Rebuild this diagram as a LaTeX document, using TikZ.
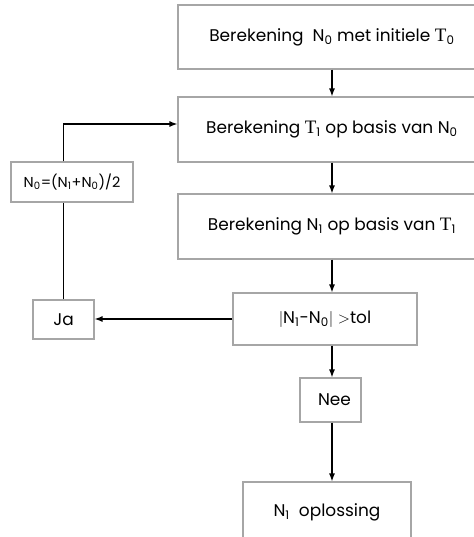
\documentclass[tikz,border=0pt]{standalone}
\usepackage{fontspec}
\setmainfont{Poppins}
\newfontfamily\tfont[Scale=1.12]{Liberation Serif}
\usetikzlibrary{arrows.meta}
\newcommand{\sub}[1]{\textsubscript{#1}}
\newcommand{\Tt}{{\tfont T}}
\tikzset{
	box/.style={draw=gray!70, line width=0.8pt, inner sep=0pt, align=center, font=\fontsize{12.7}{14}\selectfont},
	arr/.style={-{Latex[length=6pt,width=4.5pt]}, line width=1pt}
}
\begin{document}
\begin{tikzpicture}[x=0.75pt, y=-0.75pt]
			\clip (0,0) rectangle (474,537);

			% Main column
			\node[box, minimum width=231pt, minimum height=48pt] (init) at (332,37) {Berekening~~N\sub{0} met initiele \Tt\sub{0}};
			\node[box, minimum width=231pt, minimum height=48.75pt] (calcT) at (332,129.5) {Berekening \Tt\sub{1} op basis van N\sub{0}};
			\node[box, minimum width=231pt, minimum height=48.75pt] (calcN) at (332,226.5) {Berekening N\sub{1} op basis van \Tt\sub{1}};
			\node[box, minimum width=138pt, minimum height=39pt] (check) at (325,319) {$|$N\sub{1}-N\sub{0}$|$ $>$tol};
			\node[box, minimum width=45.75pt, minimum height=33pt] (nee) at (330.5,400) {\hspace{6pt}Nee};
			\node[box, minimum width=126pt, minimum height=45pt] (sol) at (327,512) {N\sub{1}~~oplossing};

			% Loop back
			\node[box, minimum width=45.75pt, minimum height=29.25pt] (ja) at (63.5,319.5) {Ja};
			\node[box, minimum width=91.5pt, minimum height=30pt, font=\fontsize{10.8}{12}\selectfont] (update) at (72,182) {N\sub{0}=(N\sub{1}+N\sub{0})/2};
			\coordinate (turn) at (63.5,124);

			% Arrows
			\draw[arr] (init) -- (calcT);
			\draw[arr] (calcT) -- (calcN);
			\draw[arr] (calcN.south) -- (calcN.south |- check.north);
			\draw[arr] (check.south -| calcN.south) -- (nee.north -| calcN.south);
			\draw[arr] (nee.south -| calcN.south) -- (sol.north -| calcN.south);
			\draw[arr] (check.west) -- (check.west -| ja.east);
			\draw[line width=1pt] (ja.north) -- (ja.north |- update.south);
			\draw[arr] (ja.north |- update.north) -- (turn) -- (turn -| calcT.west);
		\end{tikzpicture}
\end{document}
